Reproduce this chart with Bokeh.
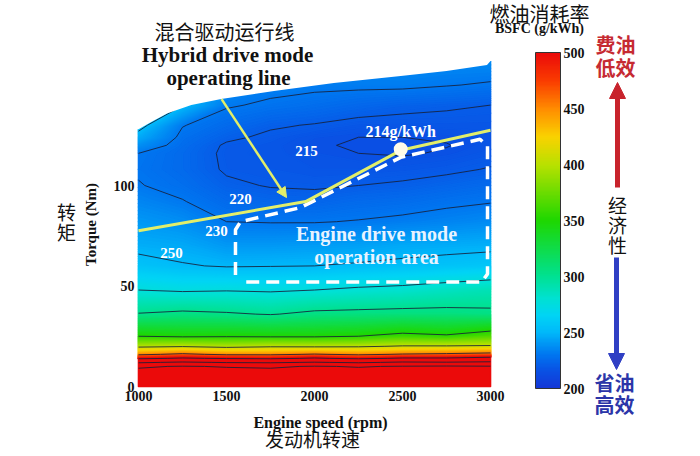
import numpy as np
from bokeh.plotting import figure
from bokeh.models import Range1d, FixedTicker, LinearColorMapper, ColorBar, Arrow, NormalHead
from bokeh.core.properties import value, field
from bokeh.embed import file_html
from bokeh.resources import INLINE

# ---------------- data ----------------
speed_rpm = [1000, 1250, 1500, 1750, 2000, 2250, 2500, 2750, 3000]
torque_nm = [0, 10, 12, 14, 16, 20, 25, 36, 48, 60, 70, 82, 92, 100, 108, 116, 120, 124, 130, 140, 150, 160, 170]
bsfc_grid = [
    [800, 800, 800, 800, 800, 800, 800, 800, 800],
    [690, 705, 695, 690, 705, 695, 705, 710, 705],
    [590, 610, 595, 590, 605, 590, 610, 605, 615],
    [490, 505, 495, 490, 505, 490, 505, 505, 515],
    [445, 455, 445, 445, 452, 445, 452, 455, 460],
    [395, 398, 393, 397, 396, 397, 402, 402, 403],
    [350, 347, 348, 347, 347, 350, 357, 353, 364],
    [301, 304, 302, 299, 304, 305, 306, 306, 304],
    [275, 273, 274, 273, 275, 278, 280, 284, 288],
    [255, 251, 249, 249.5, 250, 251.5, 253, 255, 257],
    [246.5, 245, 240, 240, 241, 242.5, 245, 246, 247],
    [240, 237, 230, 229.5, 229.5, 230.5, 232, 234, 236],
    [234.5, 230.5, 225, 223.5, 223, 225, 226, 228, 229.5],
    [230.5, 227, 221.5, 219.5, 219, 220, 221, 223, 225],
    [229, 225, 219, 218, 217, 217, 217.5, 218.5, 220.5],
    [230, 225, 218.5, 217.5, 216, 215, 214.5, 215.5, 217.5],
    [237, 226, 219, 217.5, 215.5, 214.5, 214, 214.8, 216.5],
    [245, 227.5, 221.5, 218.5, 216, 215, 215, 215.5, 216.5],
    [255, 230.5, 225, 221, 219.5, 217.5, 217.5, 217.5, 217.5],
    [265, 250.5, 231, 228.5, 226.5, 224, 222, 221, 220],
    [272, 258, 238, 233, 232, 232, 232, 230.5, 229],
    [278, 264, 244, 238, 236, 235, 236, 235, 235],
    [284, 270, 250, 244, 241, 240, 240, 240, 240],
]
contour_levels = [215, 220, 230, 250, 275, 300, 350, 400, 450, 500, 600, 700]
contour_label_text = ["215", "220", "230", "250"]
contour_label_rpm = [1955, 1580, 1443, 1188]
contour_label_nm = [117.4, 93.5, 77.6, 66.2]

max_torque_rpm = [1000, 1080, 1165, 1300, 1470, 1770, 2110, 2490, 2750, 2980, 3000]
max_torque_nm = [128, 132, 136, 140, 143, 147, 151, 154.5, 157, 160, 162]

op_line_rpm = [1000, 1950, 2490, 3000]
op_line_nm = [77.5, 92, 117.5, 127.5]
best_rpm = [2490]
best_nm = [118]
best_label = "214g/kWh"

area_rpm = [1551, 1551, 1580, 1920, 2490, 2940, 2983, 2983, 2950, 1600]
area_nm = [55.5, 78, 82, 89, 114, 123, 119.5, 56, 52, 52]

speed_ticks = [1000, 1500, 2000, 2500, 3000]
torque_ticks = [0, 50, 100]
colorbar_ticks = [200, 250, 300, 350, 400, 450, 500]
bsfc_low, bsfc_high = 200, 500

# ---------------- colours ----------------
cmap_vals = [200, 215, 230, 250, 265, 280, 300, 350, 400, 425, 450, 475, 500]
cmap_rgb = [(20, 55, 215), (10, 80, 228), (0, 118, 240), (0, 185, 250), (0, 212, 245),
            (0, 225, 210), (0, 225, 145), (30, 215, 0), (185, 225, 0), (250, 210, 0),
            (255, 140, 0), (250, 60, 0), (235, 10, 10)]


def bsfc_color(v):
    v = min(max(v, bsfc_low), bsfc_high)
    ch = [int(round(np.interp(v, cmap_vals, [c[k] for c in cmap_rgb]))) for k in range(3)]
    return "#%02x%02x%02x" % tuple(ch)


palette = [bsfc_color(bsfc_low + (bsfc_high - bsfc_low) * i / 255) for i in range(256)]
fill_levels = ([float(v) for v in np.arange(bsfc_low, 300, 1.0)]
               + [float(v) for v in np.arange(300, bsfc_high + 0.1, 2.5)] + [1000.0])
fill_colors = [bsfc_color(0.5 * (a + b)) for a, b in zip(fill_levels[:-1], fill_levels[1:])]

YELLOW = "#e2ee6a"
SERIF = value("Liberation Serif")
CJK = value("Noto Sans CJK SC")

# ---------------- figure ----------------
W, H = 684, 452
rpm_per_px = 2000 / 352.0
nm_per_px = 1 / 2.01
x_range = Range1d(1000 - 138 * rpm_per_px, 3000 + (W - 490) * rpm_per_px)
y_range = Range1d(-(H - 386) * nm_per_px, 386 * nm_per_px)

p = figure(width=W, height=H, x_range=x_range, y_range=y_range, output_backend="svg",
           toolbar_location=None, min_border=0, title=None,
           background_fill_color="white", border_fill_color="white", outline_line_color=None)
p.extra_x_ranges = {"px": Range1d(0, W)}
p.extra_y_ranges = {"px": Range1d(H, 0)}
p.xgrid.visible = False
p.ygrid.visible = False

for ax, loc, ticks in ((p.xaxis, 0, speed_ticks), (p.yaxis, 1000, torque_ticks)):
    ax.fixed_location = loc
    ax.ticker = FixedTicker(ticks=ticks)
    ax.axis_line_color = None
    ax.major_tick_line_color = None
    ax.minor_tick_line_color = None
    ax.major_tick_out = 0
    ax.major_tick_in = 0
    ax.major_label_text_font = "Liberation Serif"
    ax.major_label_text_font_style = "bold"
    ax.major_label_text_font_size = "14px"
    ax.major_label_text_color = "#111111"
    ax.major_label_standoff = 4

z = np.array(bsfc_grid, dtype=float)
# filled BSFC map (each band stroked in its own colour so that no seams show)
cr = p.contour(speed_rpm, torque_nm, z, fill_levels, fill_color=fill_colors)
fg = cr.fill_renderer.glyph
fg.line_color = field("fill_color")
fg.line_width = 1.6
fg.line_alpha = 1.0
fg.line_join = "round"
# iso-BSFC lines
p.contour(speed_rpm, torque_nm, z, contour_levels,
          line_color="#17203a", line_width=1.0, line_alpha=0.85)

# white above the maximum-torque curve (widened a little to hide the band strokes at the edges)
pad = 15
mask_x = [max_torque_rpm[0] - pad] + max_torque_rpm + [max_torque_rpm[-1] + pad]
mask_y = [max_torque_nm[0]] + max_torque_nm + [max_torque_nm[-1]]
p.varea(x=mask_x, y1=mask_y, y2=y_range.end, fill_color="white")

# engine drive mode area, operating line, best point
p.line(area_rpm, area_nm, line_color="white", line_width=3.5, line_dash="13 7")
p.line(op_line_rpm, op_line_nm, line_color=YELLOW, line_width=3)
p.scatter(best_rpm, best_nm, size=14, fill_color="#fffbe8", line_color=None)
p.add_layout(Arrow(end=NormalHead(size=10, fill_color=YELLOW, line_color=YELLOW),
                   x_start=1472, y_start=143, x_end=1841, y_end=94,
                   line_color=YELLOW, line_width=2.5))

# labels inside the map
p.text(x=contour_label_rpm, y=contour_label_nm, text=contour_label_text, text_font=SERIF,
       text_font_style="bold", text_font_size="15px", text_color="white",
       text_align="center", text_baseline="middle")
p.text(x=[best_rpm[0]], y=[127], text=[best_label], text_font=SERIF, text_font_style="bold",
       text_font_size="16px", text_color="white", text_align="center", text_baseline="middle")
p.text(x=[2352, 2352], y=[76.1, 64.2], text=["Engine drive mode", "operation area"], text_font=SERIF,
       text_font_style="bold", text_font_size="20px", text_color="#e8f3ff",
       text_align="center", text_baseline="middle")


# titles and axis titles (picture-pixel coordinates)
def ptext(x, y, t, font, size, color="#111111", style="normal", angle=0.0):
    p.text(x=x, y=y, text=t, x_range_name="px", y_range_name="px", text_font=font,
           text_font_size=size, text_font_style=style, text_color=color, angle=angle,
           text_align="center", text_baseline="middle")


ptext([224], [31], ["混合驱动运行线"], CJK, "20px")
ptext([227, 228], [54, 77], ["Hybrid drive mode", "operating line"], SERIF, "21px", style="bold")
ptext([320], [422], ["Engine speed (rpm)"], SERIF, "16px", style="bold")
ptext([312], [438], ["发动机转速"], CJK, "19px")
ptext([90], [224], ["Torque (Nm)"], SERIF, "15px", style="bold", angle=np.pi / 2)
ptext([66, 66], [211, 231], ["转", "矩"], CJK, "19px")

ptext([539], [13], ["燃油消耗率"], CJK, "20px")
ptext([539], [28], ["BSFC (g/kWh)"], SERIF, "14px", style="bold")
ptext([615, 615], [44, 67], ["费油", "低效"], CJK, "20px", color="#c62a32", style="bold")
ptext([617, 617, 617], [204, 224, 244], ["经", "济", "性"], CJK, "19px")
ptext([614, 614], [382, 404], ["省油", "高效"], CJK, "20px", color="#2b35a8", style="bold")

RED = "#c8232c"
BLUE = "#2f3fc4"
p.add_layout(Arrow(end=NormalHead(size=16, fill_color=RED, line_color=RED),
                   x_start=617, y_start=187, x_end=617, y_end=82, line_color=RED, line_width=5,
                   x_range_name="px", y_range_name="px"))
p.add_layout(Arrow(end=NormalHead(size=16, fill_color=BLUE, line_color=BLUE),
                   x_start=616, y_start=257, x_end=616, y_end=369, line_color=BLUE, line_width=5,
                   x_range_name="px", y_range_name="px"))

# colour bar
mapper = LinearColorMapper(palette=palette, low=bsfc_low, high=bsfc_high)
cb = ColorBar(color_mapper=mapper, ticker=FixedTicker(ticks=colorbar_ticks), width=25, height=336,
              location=(535, H - 388), padding=0, margin=0,
              major_tick_line_color=None, minor_tick_line_color=None, major_tick_out=0, major_tick_in=0,
              label_standoff=3, major_label_text_font="Liberation Serif",
              major_label_text_font_style="bold", major_label_text_font_size="14px",
              major_label_text_color="#111111",
              bar_line_color="#333333", bar_line_width=1,
              background_fill_color=None, border_line_color=None)
p.add_layout(cb, "center")

open("out.html", "w").write(file_html(p, INLINE))
